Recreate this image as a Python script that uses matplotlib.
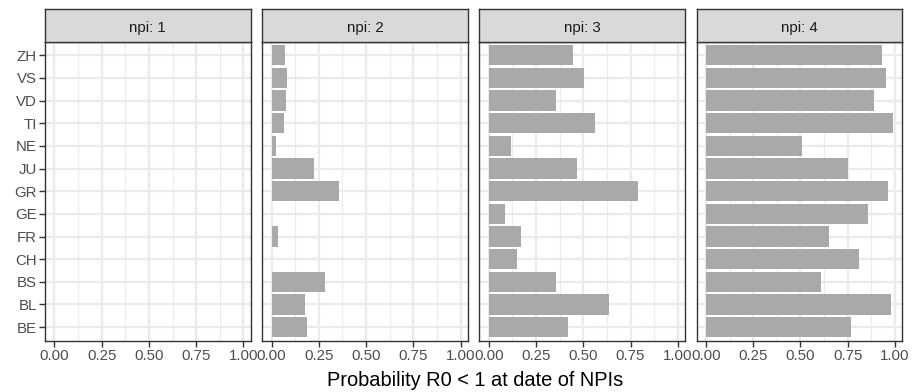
import numpy as np
import matplotlib
matplotlib.use("Agg")
import matplotlib.pyplot as plt

plt.rcParams['font.family'] = ['Liberation Sans', 'DejaVu Sans']

# Kantone (von unten nach oben gezeichnet)
regions = ['BE', 'BL', 'BS', 'CH', 'FR', 'GE', 'GR', 'JU', 'NE', 'TI', 'VD', 'VS', 'ZH']
npis = [1, 2, 3, 4]

# Wahrscheinlichkeit R0 < 1 je NPI, Reihenfolge wie regions
prob_npi1 = [0, 0, 0, 0, 0, 0, 0, 0, 0, 0, 0, 0, 0]
prob_npi2 = [0.189, 0.177, 0.282, 0.005, 0.032, 0.0, 0.356, 0.226, 0.021, 0.065, 0.074, 0.082, 0.070]
prob_npi3 = [0.419, 0.635, 0.358, 0.151, 0.170, 0.088, 0.791, 0.468, 0.116, 0.560, 0.354, 0.503, 0.444]
prob_npi4 = [0.765, 0.977, 0.609, 0.811, 0.653, 0.856, 0.965, 0.751, 0.507, 0.989, 0.888, 0.951, 0.930]
probs = [prob_npi1, prob_npi2, prob_npi3, prob_npi4]

W, H = 913, 392
fig = plt.figure(figsize=(W / 100, H / 100), dpi=100)

xmax = max(max(p) for p in probs)
xlim = (-0.05 * xmax, xmax * 1.05)
y = np.arange(len(regions))

for i, (npi, vals) in enumerate(zip(npis, probs)):
    left = 45 + i * 217.2
    ax = fig.add_axes([left / W, 51.3 / H, 205.7 / W, 299 / H])
    ax.set_facecolor('white')
    ax.barh(y, vals, height=0.9, color='#A9A9A9', zorder=3)
    ax.set_xlim(*xlim)
    ax.set_ylim(-0.6, len(regions) - 0.4)

    # Gitterlinien wie theme_bw
    ax.set_xticks([0, 0.25, 0.5, 0.75, 1.0])
    ax.set_xticks([0.125, 0.375, 0.625, 0.875], minor=True)
    ax.set_xticklabels(['0.00', '0.25', '0.50', '0.75', '1.00'])
    ax.set_yticks(y)
    ax.grid(which='major', color='#EBEBEB', linewidth=1.6, zorder=0)
    ax.grid(which='minor', axis='x', color='#EBEBEB', linewidth=0.8, zorder=0)
    ax.set_axisbelow(True)

    ax.tick_params(axis='both', which='major', length=4, width=1.0,
                   color='#333333', labelcolor='#4D4D4D', labelsize=10.8, pad=2)
    ax.tick_params(axis='x', which='minor', length=0)
    if i == 0:
        ax.set_yticklabels(regions)
    else:
        ax.tick_params(axis='y', length=0, labelleft=False)

    for s in ax.spines.values():
        s.set_color('#333333')
        s.set_linewidth(1.0)

    # Streifen mit Facettentitel
    sax = fig.add_axes([left / W, 350.3 / H, 205.7 / W, 32.4 / H])
    sax.set_facecolor('#D9D9D9')
    sax.set_xticks([])
    sax.set_yticks([])
    for s in sax.spines.values():
        s.set_color('#333333')
        s.set_linewidth(1.0)
    sax.text(0.5, 0.42, f'npi: {npi}', ha='center', va='center',
             fontsize=10.8, color='#1A1A1A', transform=sax.transAxes)

fig.text(475 / W, 11 / H, 'Probability R0 < 1 at date of NPIs',
         ha='center', va='center', fontsize=14.4, color='black')

fig.savefig('out.png', dpi=100)
